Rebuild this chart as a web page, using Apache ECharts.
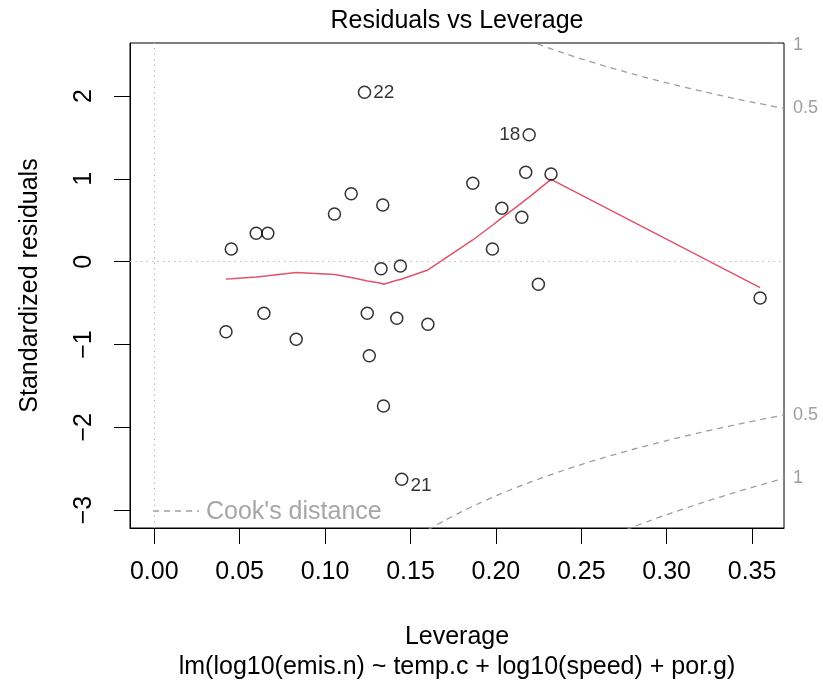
<!DOCTYPE html>
<html>
<head>
<meta charset="utf-8">
<script src="https://cdn.jsdelivr.net/npm/echarts@6/dist/echarts.min.js"></script>
<style>html,body{margin:0;padding:0;background:#fff}#c{width:823px;height:685px}</style>
</head>
<body>
<div id="c"></div>
<script>
// ---- data ----
var leverage = [0.0420,0.0451,0.0597,0.0642,0.0665,0.0831,0.1055,0.1153,0.1231,0.1247,0.1259,0.1328,0.1338,0.1342,0.1420,0.1441,0.1449,0.1602,0.1865,0.1980,0.2035,0.2152,0.2175,0.2195,0.2249,0.2323,0.3547];
var stdResid = [-0.845,0.153,0.343,-0.623,0.343,-0.937,0.576,0.821,2.046,-0.623,-1.135,-0.085,0.685,-1.743,-0.684,-0.052,-2.628,-0.756,0.947,0.153,0.645,0.536,1.080,1.534,-0.273,1.059,-0.438];
var smoothY  = [-0.209,-0.205,-0.185,-0.175,-0.170,-0.130,-0.155,-0.190,-0.225,-0.232,-0.235,-0.260,-0.268,-0.272,-0.225,-0.215,-0.210,-0.100,0.262,0.440,0.530,0.710,0.750,0.780,0.870,0.995,-0.314];
var idIndex  = [8, 16, 23];
var idText   = ['22', '21', '18'];
var idPos    = ['right', 'right', 'left'];
var cook05H  = [0.16,0.17,0.18,0.19,0.20,0.22,0.24,0.26,0.28,0.30,0.32,0.34,0.36,0.3687];
var cook05R  = [3.240,3.125,3.018,2.920,2.828,2.663,2.517,2.386,2.268,2.160,2.062,1.970,1.886,1.8505];
var cook1H   = [0.27,0.28,0.29,0.30,0.32,0.34,0.36,0.3687];
var cook1R   = [3.289,3.207,3.129,3.055,2.916,2.786,2.667,2.617];
var cookTickPos = [-2.617,-1.8505,1.8505,2.617];
var cookTickLab = ['1','0.5','0.5','1'];
var xTicks = [0,0.05,0.10,0.15,0.20,0.25,0.30,0.35];
var yTicks = [-3,-2,-1,0,1,2];
var xRange = [-0.0142, 0.3687];
var yRange = [-3.216, 2.641];

var FONT = '"Liberation Sans", Arial, Helvetica, sans-serif';
var GREY = '#9e9e9e';

var pts = leverage.map(function (x, i) {
  var item = { value: [x, stdResid[i]] };
  var k = idIndex.indexOf(i);
  if (k >= 0) {
    item.label = { show: true, formatter: idText[k], position: idPos[k], distance: 2,
      offset: idText[k] === '21' ? [0, 6] : [0, 0] };
  }
  return item;
});
var smooth = leverage.map(function (x, i) { return [x, smoothY[i]]; });
function curve(h, r, s) { return h.map(function (x, i) { return [x, s * r[i]]; }); }
var cookStyle = { color: GREY, width: 1.3, type: [6, 5] };
function cookSeries(h, r, s) {
  return { type: 'line', data: curve(h, r, s), symbol: 'none', smooth: 0.3, clip: true,
    lineStyle: cookStyle, silent: true, z: 1, yAxisIndex: 0 };
}

var chart = echarts.init(document.getElementById('c'), null, { renderer: 'canvas' });
chart.setOption({
  animation: false,
  backgroundColor: '#fff',
  textStyle: { fontFamily: FONT },
  grid: { left: 130, top: 43, width: 654, height: 485, containLabel: false, outerBoundsMode: 'none',
    show: true, borderColor: '#000', borderWidth: 1, backgroundColor: 'transparent' },
  xAxis: {
    type: 'value', min: xRange[0], max: xRange[1],
    axisLine: { show: true, onZero: false, lineStyle: { color: '#000', width: 1 } },
    axisTick: { show: true, length: 16, customValues: xTicks, lineStyle: { color: '#000', width: 1 } },
    axisLabel: { show: true, customValues: xTicks, margin: 32, fontSize: 25, color: '#000', fontFamily: FONT,
      formatter: function (v) { return v.toFixed(2); } },
    splitLine: { show: false }
  },
  yAxis: [{
    type: 'value', min: yRange[0], max: yRange[1],
    axisLine: { show: true, onZero: false, lineStyle: { color: '#000', width: 1 } },
    axisTick: { show: true, length: 16, customValues: yTicks, lineStyle: { color: '#000', width: 1 } },
    axisLabel: { show: true, customValues: yTicks, margin: 33, rotate: 90, fontSize: 25, color: '#000', fontFamily: FONT,
      formatter: function (v) { return String(v).replace('-', '\u2212'); } },
    splitLine: { show: false }
  }, {
    type: 'value', min: yRange[0], max: yRange[1], position: 'right',
    axisLine: { show: false },
    axisTick: { show: false },
    axisLabel: { show: true, customValues: cookTickPos, margin: 9, fontSize: 18, color: GREY, fontFamily: FONT,
      formatter: function (v) { var i = cookTickPos.indexOf(v); return i >= 0 ? cookTickLab[i] : ''; } },
    splitLine: { show: false }
  }],
  series: [
    cookSeries(cook05H, cook05R, 1),
    cookSeries(cook05H, cook05R, -1),
    cookSeries(cook1H, cook1R, 1),
    cookSeries(cook1H, cook1R, -1),
    {
      type: 'line', data: smooth, symbol: 'none', smooth: false, silent: true, z: 3,
      lineStyle: { color: '#DF536B', width: 1.5 },
      markLine: {
        silent: true, symbol: 'none', label: { show: false },
        lineStyle: { color: '#bebebe', type: [1.5, 4], width: 1.2 },
        data: [{ yAxis: 0 }, { xAxis: 0 }]
      }
    },
    {
      type: 'scatter', data: pts, symbol: 'circle', symbolSize: 12, z: 4,
      itemStyle: { color: 'rgba(0,0,0,0)', borderColor: '#000', borderWidth: 1.5 },
      label: { color: '#000', fontSize: 19, fontFamily: FONT }
    }
  ],
  graphic: [
    { type: 'text', style: { text: 'Residuals vs Leverage', x: 457, y: 21, textAlign: 'center', textVerticalAlign: 'middle', font: '25px ' + FONT, fill: '#000' } },
    { type: 'text', style: { text: 'Leverage', x: 457, y: 637, textAlign: 'center', textVerticalAlign: 'middle', font: '25px ' + FONT, fill: '#000' } },
    { type: 'text', style: { text: 'lm(log10(emis.n) ~ temp.c + log10(speed) + por.g)', x: 457, y: 667, textAlign: 'center', textVerticalAlign: 'middle', font: '25px ' + FONT, fill: '#000' } },
    { type: 'text', x: 30, y: 285.5, rotation: Math.PI / 2, style: { text: 'Standardized residuals', x: 0, y: 0, textAlign: 'center', textVerticalAlign: 'middle', font: '25px ' + FONT, fill: '#000' } },
    { type: 'line', shape: { x1: 153, y1: 511, x2: 199, y2: 511 }, style: { stroke: GREY, lineWidth: 1.3, lineDash: [6, 5] } },
    { type: 'text', style: { text: "Cook's distance", x: 206, y: 512, textAlign: 'left', textVerticalAlign: 'middle', font: '25px ' + FONT, fill: '#a6a6a6' } }
  ]
});
</script>
</body>
</html>
